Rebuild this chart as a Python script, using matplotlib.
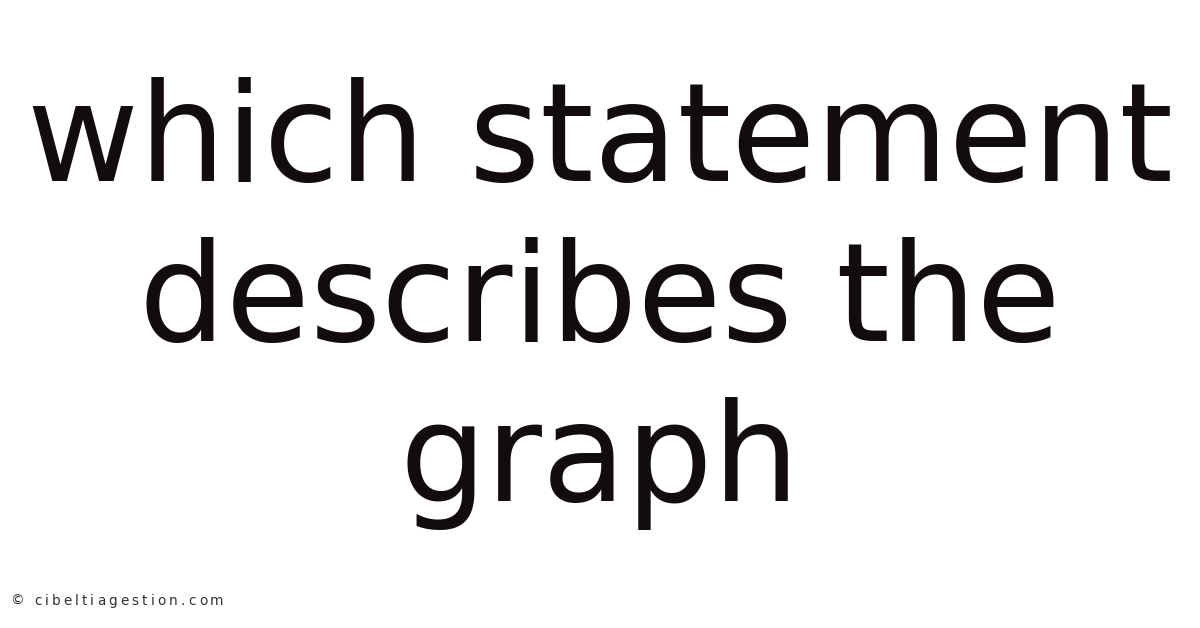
import matplotlib
matplotlib.use("Agg")
import matplotlib.pyplot as plt

lines = ["which statement", "describes the", "graph"]
baselines = [181, 341, 501]   # pixel rows from the top
watermark = "© cibeltiagestion.com"

W, H = 1200, 628
fig = plt.figure(figsize=(W / 100, H / 100), dpi=100)
fig.patch.set_facecolor("white")

for txt, yb in zip(lines, baselines):
    fig.text(0.5, 1 - yb / H, txt, ha="center", va="baseline",
             fontsize=98.6, color="#120c0c", family="DejaVu Sans")

# watermark with wide letter spacing, drawn char by char
renderer = fig.canvas.get_renderer()
x = 10.0
spacing = 3.1
for ch in watermark:
    t = fig.text(x / W, 1 - 605 / H, ch, ha="left", va="baseline",
                 fontsize=9.8, color="#333333", family="DejaVu Sans",
                 fontweight="medium")
    if ch == " ":
        x += 4 + spacing
    else:
        x += t.get_window_extent(renderer).width + spacing

fig.savefig("out.png", dpi=100, facecolor="white")
